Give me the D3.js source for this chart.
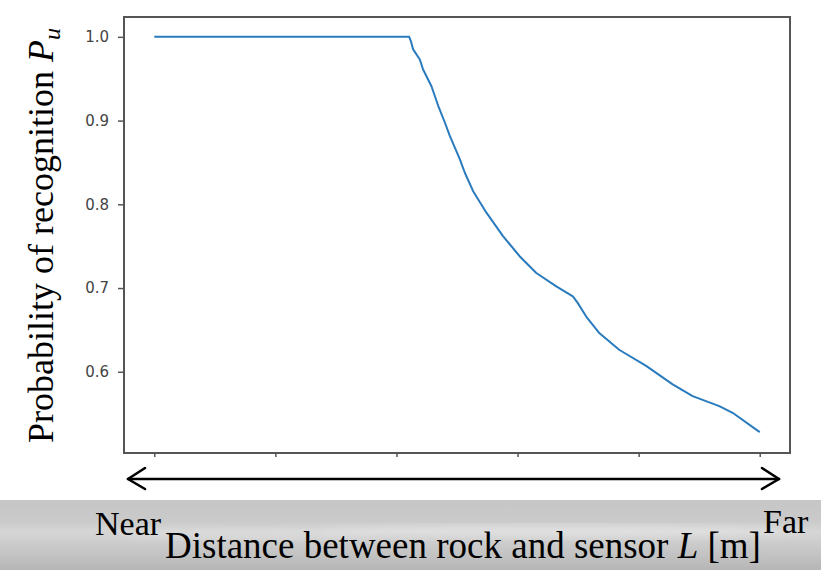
<!DOCTYPE html>
<html>
<head>
<meta charset="utf-8">
<script src="https://cdn.jsdelivr.net/npm/d3@7"></script>
<style>
  body { margin: 0; background: #fff; }
  svg { display: block; }
</style>
</head>
<body>
<div id="grafico"></div>
<script>
// datos
var distance = [0, 2.105, 2.119, 2.138, 2.193, 2.220, 2.289, 2.344, 2.399, 2.440, 2.523, 2.564, 2.632, 2.743,
                2.880, 3.017, 3.155, 3.320, 3.457, 3.498, 3.567, 3.677, 3.842, 4.062, 4.281, 4.446, 4.666, 4.776, 5.0];
var probability = [1.0, 1.0, 0.995, 0.985, 0.973, 0.961, 0.941, 0.918, 0.898, 0.882, 0.854, 0.838, 0.816, 0.790,
                   0.762, 0.738, 0.718, 0.702, 0.690, 0.682, 0.666, 0.646, 0.626, 0.607, 0.585, 0.571, 0.559, 0.551, 0.528];
var xTicks = [0, 1, 2, 3, 4, 5];
var yTicks = [0.6, 0.7, 0.8, 0.9, 1.0];

var width_f = 821, height_f = 570,
    margin = {top: 17, right: 31, bottom: 117, left: 124},
    width = width_f - margin.left - margin.right,
    height = height_f - margin.top - margin.bottom;

var svg = d3.select("#grafico").append("svg")
    .attr("width", width_f)
    .attr("height", height_f);

// banda gris de fondo (foto de roca)
var defs = svg.append("defs");
var grad = defs.append("linearGradient").attr("id", "banda")
    .attr("x1", 0).attr("y1", 0).attr("x2", 0).attr("y2", 1);
grad.append("stop").attr("offset", "0%").attr("stop-color", "#c6c6c6");
grad.append("stop").attr("offset", "30%").attr("stop-color", "#cacaca");
grad.append("stop").attr("offset", "45%").attr("stop-color", "#d6d6d6");
grad.append("stop").attr("offset", "60%").attr("stop-color", "#cdcdcd");
grad.append("stop").attr("offset", "100%").attr("stop-color", "#b6b6b6");
defs.append("filter").attr("id", "blur")
    .append("feGaussianBlur").attr("stdDeviation", 5);

svg.append("rect")
    .attr("x", 0).attr("y", 500)
    .attr("width", width_f).attr("height", 70)
    .attr("fill", "url(#banda)");

var nubes = svg.append("g").attr("filter", "url(#blur)").attr("opacity", 0.45);
nubes.append("ellipse").attr("cx", 560).attr("cy", 531).attr("rx", 240).attr("ry", 6).attr("fill", "#eeeeee");
nubes.append("ellipse").attr("cx", 250).attr("cy", 535).attr("rx", 130).attr("ry", 4).attr("fill", "#e8e8e8");

var g = svg.append("g").attr("transform", "translate(" + margin.left + "," + margin.top + ")");

var x = d3.scaleLinear().domain([-0.25, 5.25]).range([0, width]);
var y = d3.scaleLinear().domain([0.503, 1.0237]).range([height, 0]);

// ejes
var yAxis = g.append("g")
    .call(d3.axisLeft(y).tickValues(yTicks).tickFormat(d3.format(".1f")).tickSize(6).tickPadding(9));
var xAxis = g.append("g")
    .attr("transform", "translate(0," + height + ")")
    .call(d3.axisBottom(x).tickValues(xTicks).tickFormat("").tickSize(4));

[yAxis, xAxis].forEach(function(a) {
    a.select(".domain").remove();
    a.selectAll(".tick line").attr("stroke", "#555").attr("stroke-width", 1.5);
});
yAxis.selectAll(".tick text")
    .attr("font-family", "DejaVu Sans")
    .attr("font-size", 15)
    .attr("fill", "#444");

g.append("rect")
    .attr("width", width).attr("height", height)
    .attr("fill", "none")
    .attr("stroke", "#555")
    .attr("stroke-width", 2);

var line = d3.line()
    .x(function(d, i) { return x(distance[i]); })
    .y(function(d) { return y(d); });

g.append("path")
    .datum(probability)
    .attr("d", line)
    .attr("fill", "none")
    .attr("stroke", "#2a7bbd")
    .attr("stroke-width", 2)
    .attr("stroke-linejoin", "round");

// titulo eje y
var ylab = svg.append("text")
    .attr("transform", "translate(53,443) rotate(-90)")
    .attr("font-family", "Liberation Serif")
    .attr("font-size", 36)
    .attr("fill", "#000");
ylab.append("tspan").text("Probability of recognition ");
ylab.append("tspan").attr("font-style", "italic").text("P");
ylab.append("tspan").attr("font-style", "italic").attr("font-size", 24).attr("dy", 7).text("u");

// flecha Near - Far
var flecha = svg.append("g")
    .attr("stroke", "#000")
    .attr("stroke-width", 2.6)
    .attr("fill", "none")
    .attr("stroke-linecap", "round")
    .attr("stroke-linejoin", "round");
flecha.append("line").attr("x1", 128).attr("x2", 779).attr("y1", 479).attr("y2", 479);
flecha.append("path").attr("d", "M145,468 L128,479 L145,489");
flecha.append("path").attr("d", "M762,468 L779,479 L762,489");

svg.append("text")
    .attr("x", 95).attr("y", 535)
    .attr("font-family", "Liberation Serif")
    .attr("font-size", 34)
    .text("Near");
svg.append("text")
    .attr("x", 763).attr("y", 533)
    .attr("font-family", "Liberation Serif")
    .attr("font-size", 34)
    .text("Far");

var xlab = svg.append("text")
    .attr("x", 165).attr("y", 558)
    .attr("font-family", "Liberation Serif")
    .attr("font-size", 37);
xlab.append("tspan").text("Distance between rock and sensor ");
xlab.append("tspan").attr("font-style", "italic").text("L");
xlab.append("tspan").text(" [m]");
</script>
</body>
</html>
